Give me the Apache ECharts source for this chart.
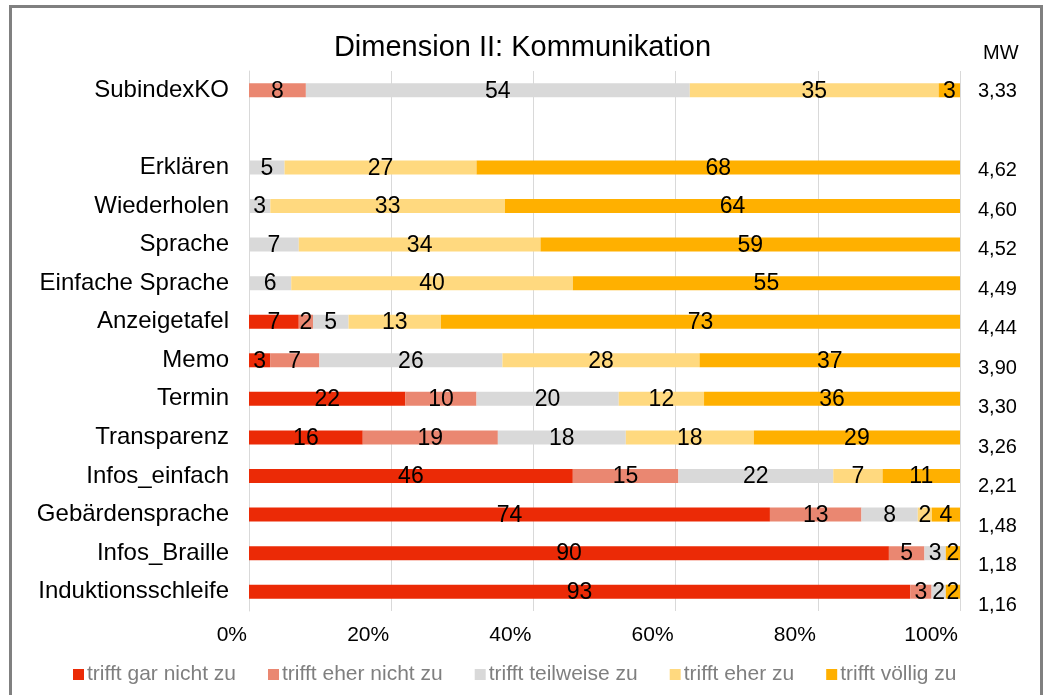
<!DOCTYPE html>
<html lang="de">
<head>
<meta charset="UTF-8">
<title>Dimension II: Kommunikation</title>
<style>
  html, body { margin: 0; padding: 0; background: #fff; }
  #chart { width: 1045px; height: 695px; }
</style>
</head>
<body>
<div id="chart"></div>
<script src="https://cdn.jsdelivr.net/npm/echarts@6/dist/echarts.min.js"></script>
<script>
  // Kategorien von oben nach unten (leere Zeile als Abstand)
  let categories = ['SubindexKO', '', 'Erklären', 'Wiederholen', 'Sprache', 'Einfache Sprache', 'Anzeigetafel',
    'Memo', 'Termin', 'Transparenz', 'Infos_einfach', 'Gebärdensprache', 'Infos_Braille', 'Induktionsschleife']
  let mw = ['3,33', '', '4,62', '4,60', '4,52', '4,49', '4,44', '3,90', '3,30', '3,26', '2,21', '1,48', '1,18', '1,16']

  let garNicht   = [0, null, 0, 0, 0, 0, 7, 3, 22, 16, 46, 74, 90, 93]
  let eherNicht  = [8, null, 0, 0, 0, 0, 2, 7, 10, 19, 15, 13, 5, 3]
  let teilweise  = [54, null, 5, 3, 7, 6, 5, 26, 20, 18, 22, 8, 3, 2]
  let eherZu     = [35, null, 27, 33, 34, 40, 13, 28, 12, 18, 7, 2, 0, 0]
  let voellig    = [3, null, 68, 64, 59, 55, 73, 37, 36, 29, 11, 4, 2, 2]

  let seriesNames = ['trifft gar nicht zu', 'trifft eher nicht zu', 'trifft teilweise zu', 'trifft eher zu', 'trifft völlig zu']
  let colors = ['#EB2A06', '#EA8771', '#D9D9D9', '#FFD97F', '#FFB000']
  let rows = [garNicht, eherNicht, teilweise, eherZu, voellig]

  const font = '"Liberation Sans", Arial, sans-serif'

  // 100%-gestapelt: jede Zeile auf ihre Summe normieren
  let sums = categories.map((c, i) => rows.reduce((s, r) => s + (r[i] || 0), 0))

  let chart = echarts.init(document.getElementById('chart'))
  chart.setOption({
    animation: false,
    color: colors,
    title: [
      {
        text: 'Dimension II: Kommunikation',
        left: 'center',
        top: 28,
        textStyle: { fontFamily: font, fontSize: 29, fontWeight: 'normal', color: '#000' }
      },
      {
        text: 'MW',
        left: 978,
        top: 38,
        textStyle: { fontFamily: font, fontSize: 20, fontWeight: 'normal', color: '#000' }
      }
    ],
    legend: {
      top: 659,
      left: 68,
      icon: 'rect',
      itemWidth: 11,
      itemHeight: 11,
      itemGap: 32,
      textStyle: { fontFamily: font, fontSize: 21, color: '#7F7F7F', padding: [0, 0, 0, -2] },
      data: seriesNames
    },
    grid: [
      { left: 249, right: 85, top: 71, bottom: 84 },
      { left: 960, width: 60, top: 72, bottom: 70 }
    ],
    xAxis: [
      {
        type: 'value',
        gridIndex: 0,
        min: 0,
        max: 100,
        interval: 20,
        axisLine: { show: false },
        axisTick: { show: false },
        splitLine: { lineStyle: { color: '#D9D9D9', width: 1 } },
        axisLabel: {
          formatter: v => v + '%',
          fontFamily: font,
          fontSize: 21,
          color: '#000',
          margin: 14,
          align: 'right',
          padding: [0, 2, 0, 0]
        }
      },
      { type: 'value', gridIndex: 1, min: 0, max: 1, show: false }
    ],
    yAxis: [
      {
        type: 'category',
        gridIndex: 0,
        inverse: true,
        data: categories,
        axisLine: { lineStyle: { color: '#D9D9D9' } },
        axisTick: { show: false },
        axisLabel: { fontFamily: font, fontSize: 24, color: '#000', margin: 20 }
      },
      {
        type: 'category',
        gridIndex: 1,
        inverse: true,
        data: mw,
        axisLine: { show: false },
        axisTick: { show: false },
        axisLabel: { inside: true, margin: 18, fontFamily: font, fontSize: 20, color: '#000' }
      }
    ],
    series: rows.map((r, k) => ({
      name: seriesNames[k],
      type: 'bar',
      stack: 'total',
      barWidth: 14,
      xAxisIndex: 0,
      yAxisIndex: 0,
      itemStyle: { color: colors[k] },
      data: r.map((v, i) => (v == null ? null : { value: v / sums[i] * 100, raw: v })),
      label: {
        show: true,
        position: 'inside',
        fontFamily: font,
        fontSize: 23,
        color: '#000',
        textBorderWidth: 0,
        offset: [0, 1],
        formatter: p => (p.data && p.data.raw ? String(p.data.raw) : '')
      }
    }))
  })
</script>
<svg style="position:absolute;left:0;top:0;pointer-events:none" width="1045" height="695">
  <rect x="10.5" y="6.5" width="1031" height="700" fill="none" stroke="#808080" stroke-width="3"/>
</svg>
</body>
</html>
